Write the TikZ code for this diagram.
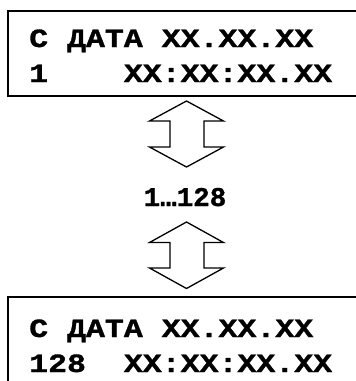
\documentclass[tikz,border=0pt]{standalone}
\usepackage{fontspec}
\newfontfamily\lcdfont[FakeStretch=1.2,FakeBold=1.2]{Liberation Mono}
\newfontfamily\midfont[FakeStretch=1.02,FakeBold=1.2]{Liberation Mono}
\begin{document}
\begin{tikzpicture}[x=1pt,y=-1pt,
  lcdbox/.style={draw=black,line width=2pt},
  lcdtext/.style={anchor=base west,inner sep=0pt,font=\lcdfont\bfseries\fontsize{26.3}{26.3}\selectfont},
  dblarrow/.style={draw=black,line width=1.3pt,line join=miter,fill=white}]
\useasboundingbox (0,0) rectangle (356,381);
% top display
\draw[lcdbox] (362,11) -- (8,11) -- (8,95.5) -- (362,95.5);
\node[lcdtext] (t1) at (29,47) {C ДАТА XX.XX.XX};
\node[lcdtext] (t2) at (29,82) {1\ \ \ \ XX:XX:XX.XX};
% arrow 1
\draw[dblarrow] (186.5,101) -- (223.5,121) -- (204,121) -- (204,147) -- (223.5,147)
  -- (186.5,167) -- (149.5,147) -- (170,147) -- (170,121) -- (149.5,121) -- cycle;
\node[anchor=base,inner sep=0pt,font=\midfont\bfseries\fontsize{27}{27}\selectfont] (range) at (185,206) {1…128};
% arrow 2
\draw[dblarrow] (186.5,222) -- (223.5,242.5) -- (204,242.5) -- (204,268) -- (223.5,268)
  -- (186.5,288.5) -- (149.5,268) -- (170,268) -- (170,242.5) -- (149.5,242.5) -- cycle;
% bottom display
\draw[lcdbox] (362,297) -- (8,297) -- (8,390);
\node[lcdtext] (b1) at (29,337) {C ДАТА XX.XX.XX};
\node[lcdtext] (b2) at (29,372) {128\ \ XX:XX:XX.XX};
\end{tikzpicture}
\end{document}
